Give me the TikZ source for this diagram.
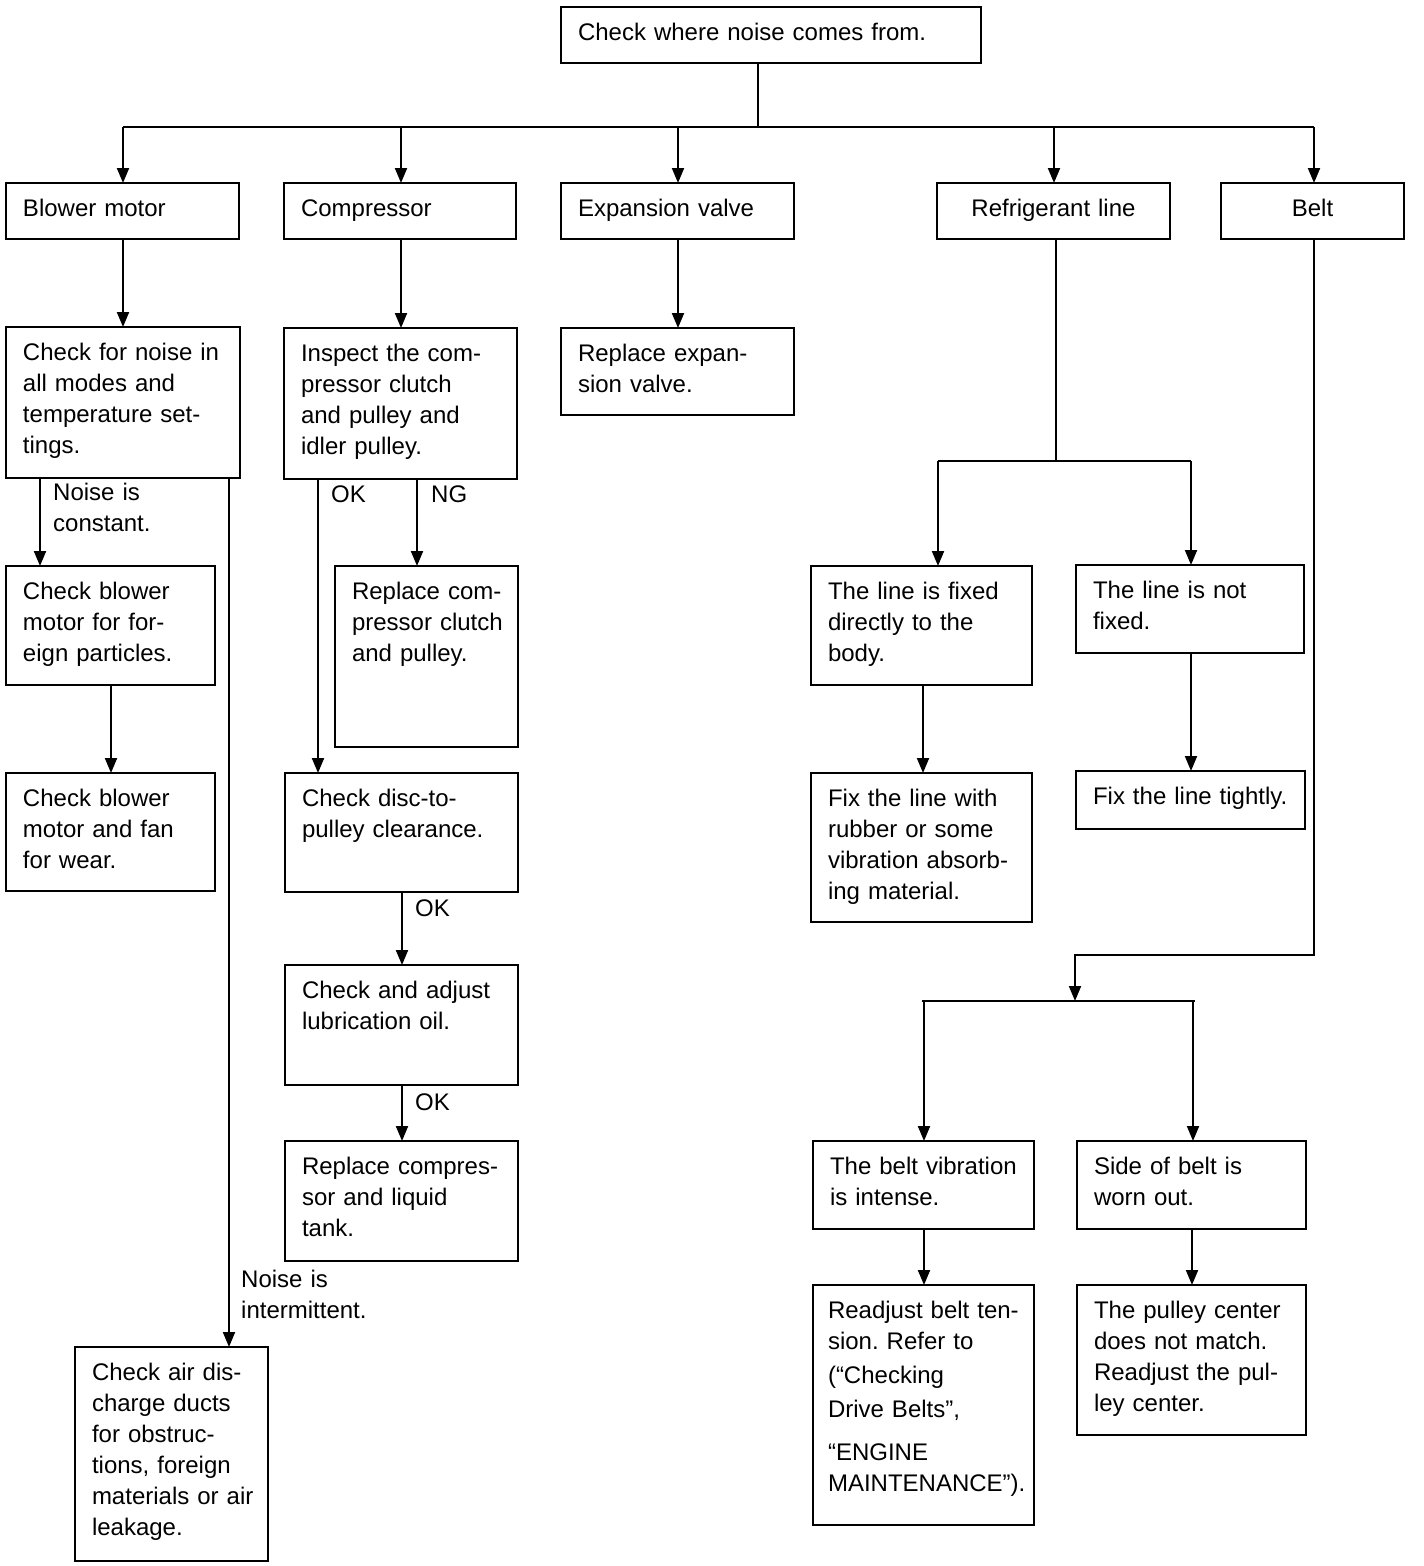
\documentclass[tikz,border=0pt]{standalone}
\usepackage{fontspec}
\setmainfont{Liberation Sans}
\usetikzlibrary{arrows.meta}
\newcommand\ML[1]{\mbox{#1}}
\frenchspacing
\begin{document}
\begin{tikzpicture}[x=1pt,y=-1pt,
  bx/.style 2 args={draw, line width=2.4pt, anchor=north west, outer sep=0pt,
    inner xsep=17pt, inner ysep=0pt, text width=#1pt-34pt,
    text height=33pt, text depth=#2pt-33pt, align=left,
    font=\fontsize{24}{31}\selectfont},
  lbl/.style={anchor=base west, inner sep=0pt, align=left, text width=200pt,
    font=\fontsize{24}{31}\selectfont},
  ln/.style={line width=2pt},
  arr/.style={line width=2pt, -{Triangle[length=15pt,width=12pt]}}]
\useasboundingbox (0,0) rectangle (1424,1566);
% boxes
\node[bx={420}{56}] (top) at (561,7) {Check where noise comes from.};
\node[bx={233}{56}] (blower) at (6,183) {Blower motor};
\node[bx={232}{56}] (comp) at (284,183) {Compressor};
\node[bx={233}{56}] (exp) at (561,183) {Expansion valve};
\node[bx={233}{56}, align=center] (refr) at (937,183) {Refrigerant line};
\node[bx={183}{56}, align=center] (belt) at (1221,183) {Belt};
\node[bx={234}{151}] (bcheck) at (6,327) {\ML{Check for noise in}\\\ML{all modes and}\\\ML{temperature set-}\\\ML{tings.}};
\node[bx={233}{151}] (insp) at (284,328) {\ML{Inspect the com-}\\\ML{pressor clutch}\\\ML{and pulley and}\\\ML{idler pulley.}};
\node[bx={233}{87}] (rexp) at (561,328) {\ML{Replace expan-}\\\ML{sion valve.}};
\node[bx={209}{119}] (bpart) at (6,566) {\ML{Check blower}\\\ML{motor for for-}\\\ML{eign particles.}};
\node[bx={209}{118}] (bwear) at (6,773) {\ML{Check blower}\\\ML{motor and fan}\\\ML{for wear.}};
\node[bx={193}{214}] (air) at (75,1347) {\ML{Check air dis-}\\\ML{charge ducts}\\\ML{for obstruc-}\\\ML{tions, foreign}\\\ML{materials or air}\\\ML{leakage.}};
\node[bx={183}{181}] (rclutch) at (335,566) {\ML{Replace com-}\\\ML{pressor clutch}\\\ML{and pulley.}};
\node[bx={233}{119}] (disc) at (285,773) {\ML{Check disc-to-}\\\ML{pulley clearance.}};
\node[bx={233}{120}] (lub) at (285,965) {\ML{Check and adjust}\\\ML{lubrication oil.}};
\node[bx={233}{120}] (rcomp) at (285,1141) {\ML{Replace compres-}\\\ML{sor and liquid}\\\ML{tank.}};
\node[bx={221}{119}] (lfix) at (811,566) {\ML{The line is fixed}\\\ML{directly to the}\\\ML{body.}};
\node[bx={228}{88}] (lnot) at (1076,565) {\ML{The line is not}\\\ML{fixed.}};
\node[bx={221}{149}] (rubber) at (811,773) {\ML{Fix the line with}\\\ML{rubber or some}\\\ML{vibration absorb-}\\\ML{ing material.}};
\node[bx={229}{58}] (tight) at (1076,771) {\ML{Fix the line tightly.}};
\node[bx={221}{88}] (vib) at (813,1141) {\ML{The belt vibration}\\\ML{is intense.}};
\node[bx={229}{88}] (side) at (1077,1141) {\ML{Side of belt is}\\\ML{worn out.}};
\node[bx={221}{240}, inner xsep=15pt, text width=191pt] (readj) at (813,1285) {\ML{Readjust belt ten-}\\\ML{sion. Refer to}\\[3pt]\ML{(“Checking}\\[3pt]\ML{Drive Belts”,}\\[12pt]\ML{“ENGINE}\\\ML{MAINTENANCE”).}};
\node[bx={229}{150}] (pulley) at (1077,1285) {\ML{The pulley center}\\\ML{does not match.}\\\ML{Readjust the pul-}\\\ML{ley center.}};
% labels
\node[lbl] (lconst) at (53,500) {Noise is\\constant.};
\node[lbl] (lint) at (241,1287) {Noise is\\intermittent.};
\node[lbl] (lok1) at (331,502) {OK};
\node[lbl] (lng) at (431,502) {NG};
\node[lbl] (lok2) at (415,916) {OK};
\node[lbl] (lok3) at (415,1110) {OK};
% coordinates
\coordinate (bus) at (758,127);
\coordinate (b1) at (123,127);
\coordinate (b2) at (401,127);
\coordinate (b3) at (678,127);
\coordinate (b4) at (1054,127);
\coordinate (b5) at (1314,127);
\coordinate (x40) at (40,0);
\coordinate (x229) at (229,0);
\coordinate (x111) at (111,0);
\coordinate (x318) at (318,0);
\coordinate (x417) at (417,0);
\coordinate (x402) at (402,0);
\coordinate (x923) at (923,0);
\coordinate (x1191) at (1191,0);
\coordinate (x924) at (924,0);
\coordinate (x1192) at (1192,0);
\coordinate (rj) at (1056,461);
\coordinate (rl) at (938,461);
\coordinate (rr) at (1191,461);
\coordinate (bturn) at (1314,955);
\coordinate (barm) at (1075,1001);
\coordinate (barL) at (922,1001);
\coordinate (barR) at (1195,1001);
\coordinate (vl) at (924,1001);
\coordinate (vr) at (1193,1001);
% connectors
\draw[ln] (top.south -| bus) -- (bus);
\draw[ln] (b1) -- (b5);
\draw[arr] (b1) -- (b1 |- blower.north);
\draw[arr] (b2) -- (b2 |- comp.north);
\draw[arr] (b3) -- (b3 |- exp.north);
\draw[arr] (b4) -- (b4 |- refr.north);
\draw[arr] (b5) -- (b5 |- belt.north);
\draw[arr] (b1 |- blower.south) -- (b1 |- bcheck.north);
\draw[arr] (b2 |- comp.south) -- (b2 |- insp.north);
\draw[arr] (b3 |- exp.south) -- (b3 |- rexp.north);
\draw[arr] (x40 |- bcheck.south) -- (x40 |- bpart.north);
\draw[arr] (x229 |- bcheck.south) -- (x229 |- air.north);
\draw[arr] (x111 |- bpart.south) -- (x111 |- bwear.north);
\draw[arr] (x318 |- insp.south) -- (x318 |- disc.north);
\draw[arr] (x417 |- insp.south) -- (x417 |- rclutch.north);
\draw[arr] (x402 |- disc.south) -- (x402 |- lub.north);
\draw[arr] (x402 |- lub.south) -- (x402 |- rcomp.north);
\draw[ln] (refr.south -| rj) -- (rj);
\draw[ln] (rl) -- (rr);
\draw[arr] (rl) -- (rl |- lfix.north);
\draw[arr] (rr) -- (rr |- lnot.north);
\draw[arr] (x923 |- lfix.south) -- (x923 |- rubber.north);
\draw[arr] (x1191 |- lnot.south) -- (x1191 |- tight.north);
\draw[arr] (belt.south -| bturn) -- (bturn) -- (barm |- bturn) -- (barm);
\draw[ln] (barL) -- (barR);
\draw[arr] (vl) -- (vl |- vib.north);
\draw[arr] (vr) -- (vr |- side.north);
\draw[arr] (x924 |- vib.south) -- (x924 |- readj.north);
\draw[arr] (x1192 |- side.south) -- (x1192 |- pulley.north);
\end{tikzpicture}
\end{document}
